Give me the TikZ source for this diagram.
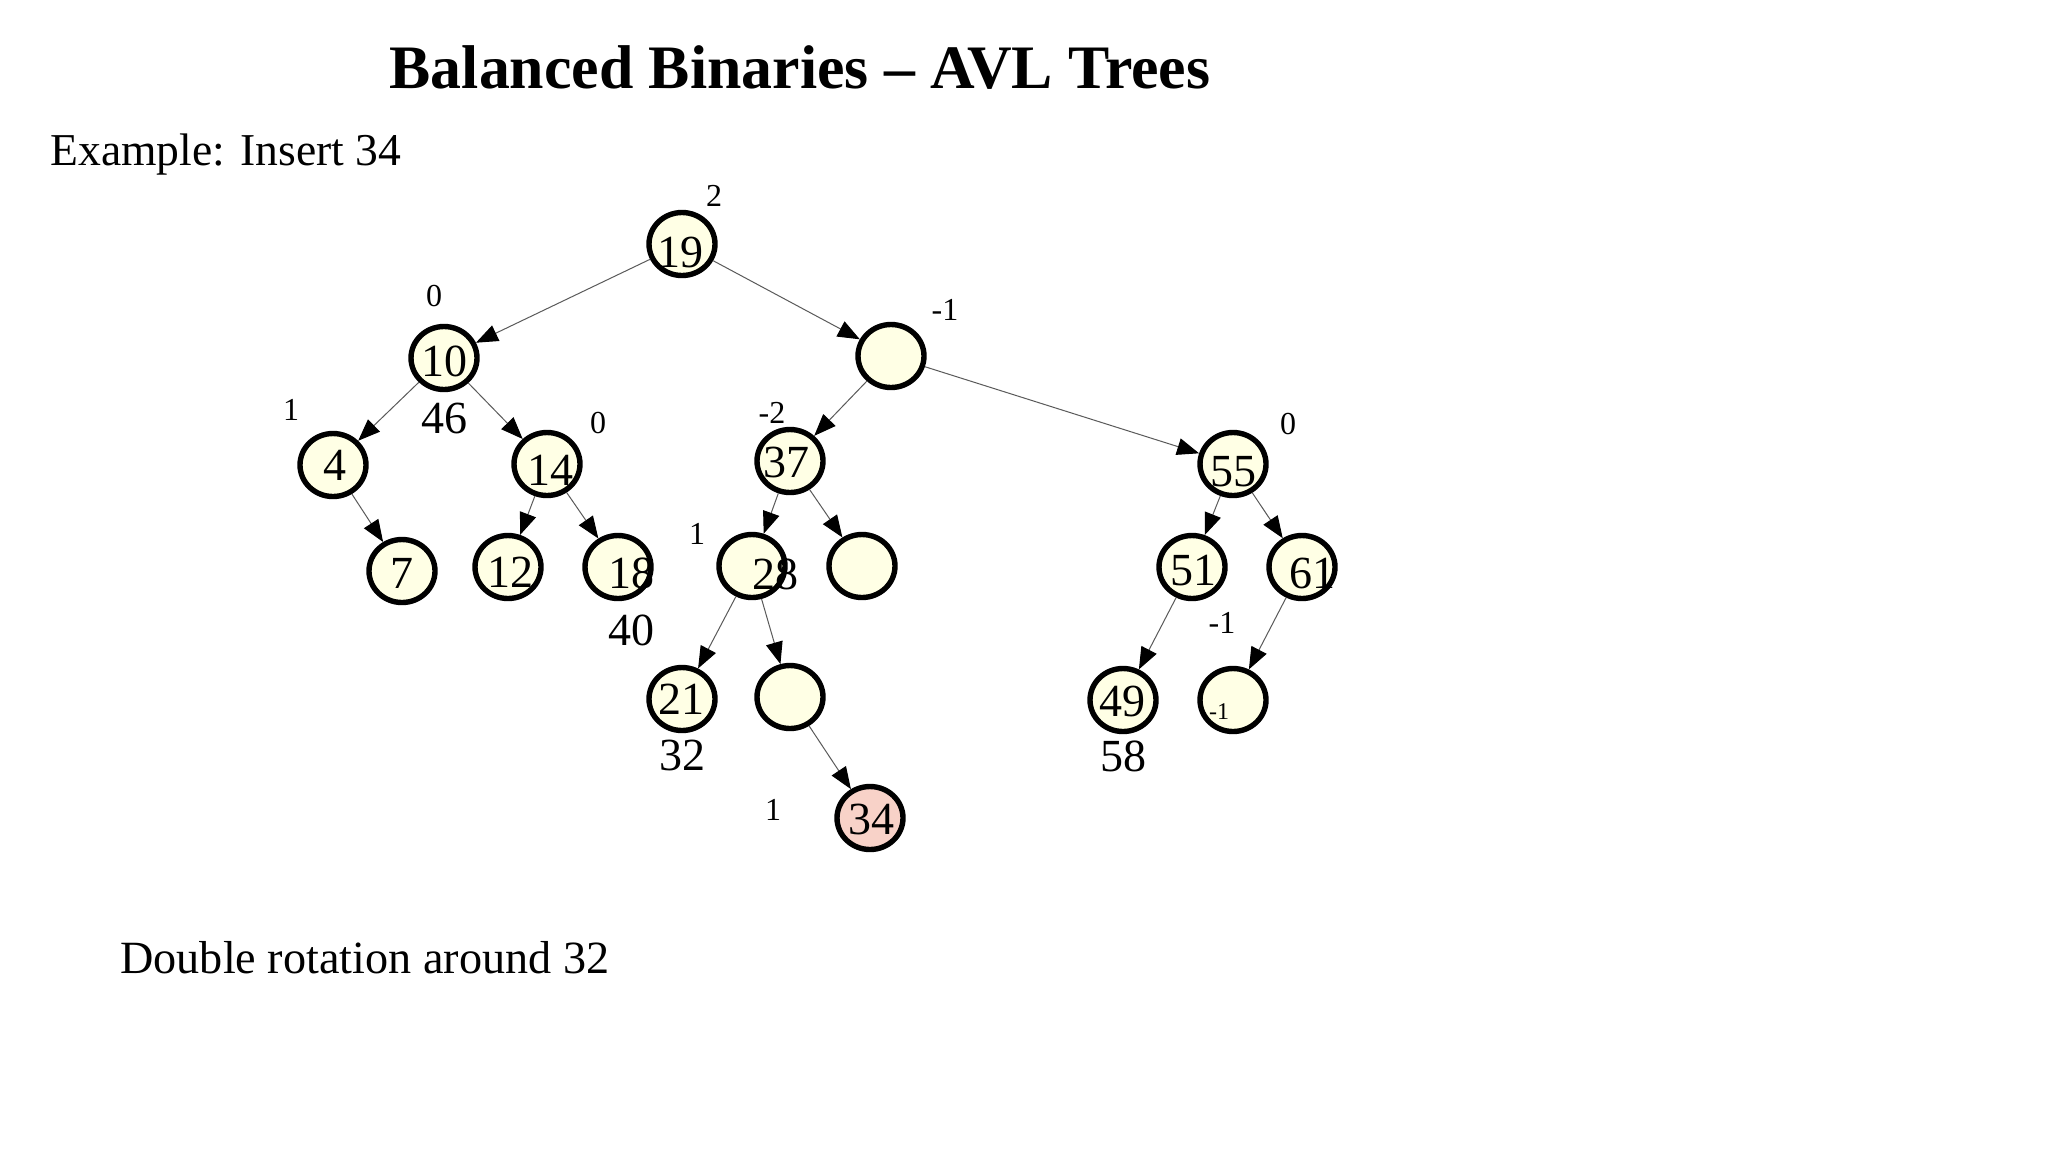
\documentclass[tikz,border=0pt]{standalone}
\usepackage{fontspec}
\setmainfont{Liberation Serif}
\usetikzlibrary{arrows.meta,shapes.geometric}
\definecolor{cream}{RGB}{255,255,229}
\definecolor{pinkfill}{RGB}{248,210,200}
\definecolor{edgegray}{RGB}{90,90,90}
\tikzset{
  avl/.style={ellipse,draw=black,line width=2.7pt,fill=cream,minimum width=33pt,minimum height=31.5pt,inner sep=0pt},
  newavl/.style={avl,fill=pinkfill},
  num/.style={font=\fontsize{23}{27}\selectfont,inner sep=0pt},
  bal/.style={font=\fontsize{16}{19}\selectfont,inner sep=0pt},
  tiny/.style={font=\fontsize{12}{14}\selectfont,inner sep=0pt},
  edge/.style={draw=edgegray,line width=0.5pt,-{Triangle[length=11pt,width=8.5pt,color=black,fill=black]}}
}
\begin{document}
\begin{tikzpicture}[x=0.5pt,y=-0.5pt]
\useasboundingbox[fill=white] (0,0) rectangle (2048,1152);
% texts
\node[anchor=base,font=\fontsize{30.9}{34}\selectfont\bfseries,inner sep=0pt] (title) at (800,88) {Balanced Binaries -- AVL Trees};
\node[anchor=base west,font=\fontsize{22.8}{27}\selectfont,inner sep=0pt] (ex) at (50,165) {Example: Insert 34};
\node[anchor=base west,font=\fontsize{23.1}{27}\selectfont,inner sep=0pt] (dr) at (120,973) {Double rotation around 32};
% tree nodes
\node[avl] (n19) at (682,244) {};
\node[avl] (nR) at (891,356) {};
\node[avl] (n10) at (444,358) {};
\node[avl] (n4) at (333,465) {};
\node[avl] (n14) at (547,464) {};
\node[avl] (n7) at (402,571) {};
\node[avl] (n12) at (508,567) {};
\node[avl] (n18) at (618,567) {};
\node[avl] (n37) at (790,461) {};
\node[avl] (n28) at (752,566) {};
\node[avl] (nE1) at (862,566) {};
\node[avl] (n21) at (682,699) {};
\node[avl] (nE2) at (790,697) {};
\node[newavl] (n34) at (870,818) {};
\node[avl] (n55) at (1233,464) {};
\node[avl] (n51) at (1192,567) {};
\node[avl] (n61) at (1302,567) {};
\node[avl] (n49) at (1123,700) {};
\node[avl] (nE3) at (1233,700) {};
% edges
\draw[edge] (n19) -- (n10);
\draw[edge] (n19) -- (nR);
\draw[edge] (n10) -- (n4);
\draw[edge] (n10) -- (n14);
\draw[edge] (n4) -- (n7);
\draw[edge] (n14) -- (n12);
\draw[edge] (n14) -- (n18);
\draw[edge] (nR) -- (n37);
\draw[edge] (nR) -- (n55);
\draw[edge] (n37) -- (n28);
\draw[edge] (n37) -- (nE1);
\draw[edge] (n28) -- (n21);
\draw[edge] (n28) -- (nE2);
\draw[edge] (nE2) -- (n34);
\draw[edge] (n55) -- (n51);
\draw[edge] (n55) -- (n61);
\draw[edge] (n51) -- (n49);
\draw[edge] (n61) -- (nE3);
% node numbers
\node[num] (t19) at ([shift={(-2,8)}]n19) {19};
\node[num] (t10) at ([shift={(0,3)}]n10) {10};
\node[num] (t4) at ([shift={(2,0)}]n4) {4};
\node[num] (t14) at ([shift={(3,6)}]n14) {14};
\node[num] (t7) at ([shift={(0,2)}]n7) {7};
\node[num] (t12) at ([shift={(2,5)}]n12) {12};
\node[num] (t18) at ([shift={(13,6)}]n18) {18};
\node[num] (t37) at ([shift={(-4,1)}]n37) {37};
\node[num] (t28) at ([shift={(23,8)}]n28) {28};
\node[num] (t21) at ([shift={(-1,0)}]n21) {21};
\node[num] (t34) at ([shift={(1,1)}]n34) {34};
\node[num] (t55) at ([shift={(0,8)}]n55) {55};
\node[num] (t51) at ([shift={(1,4)}]n51) {51};
\node[num] (t61) at ([shift={(10,6)}]n61) {61};
\node[num] (t49) at ([shift={(-1,1)}]n49) {49};
% extra numbers
\node[num] (x46) at (444,418) {46};
\node[num] (x40) at (631,630) {40};
\node[num] (x32) at (682,755) {32};
\node[num] (x58) at (1123,756) {58};
% balance labels
\node[bal] (b19) at (714,196) {2};
\node[bal] (b10) at (434,296) {0};
\node[bal] (bR) at (945,310) {-1};
\node[bal] (b4) at (291,410) {1};
\node[bal] (b14) at (598,423) {0};
\node[bal] (b37) at (772,413) {-2};
\node[bal] (b55) at (1288,424) {0};
\node[bal] (b28) at (697,534) {1};
\node[bal] (b61) at (1222,623) {-1};
\node[bal] (b34) at (773,810) {1};
\node[tiny] (bE3) at (1219,712) {-1};
\end{tikzpicture}
\end{document}
